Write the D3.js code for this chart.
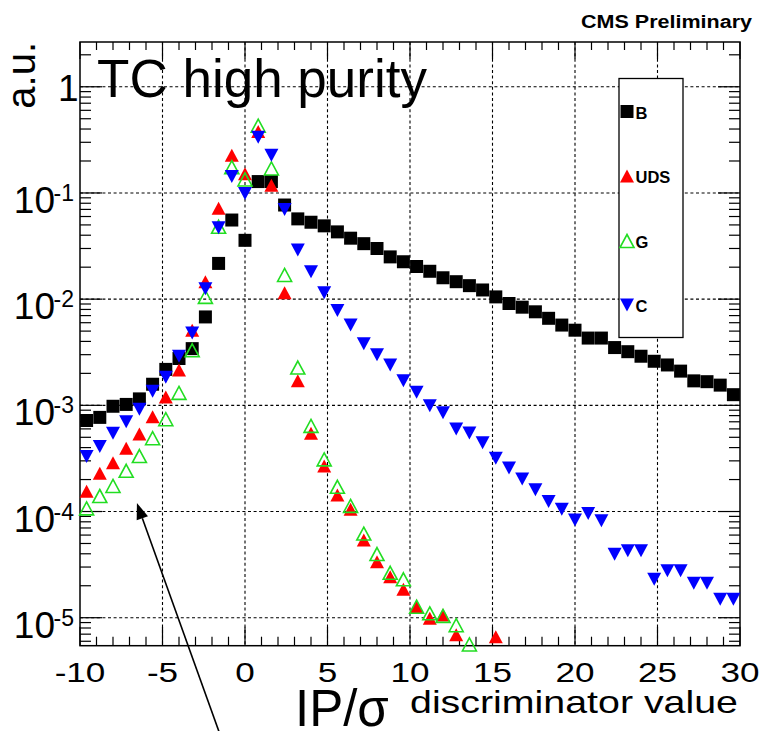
<!DOCTYPE html>
<html>
<head>
<meta charset="utf-8">
<script src="https://cdn.jsdelivr.net/npm/d3@7"></script>
<style>
  html, body { margin: 0; background: #fff; }
  svg { display: block; }
  text { font-family: "Liberation Sans", Arial, Helvetica, sans-serif; }
</style>
</head>
<body>
<svg id="chart" width="761" height="731"></svg>
<script>
// Histogram bin centres (50 bins of width 0.8 between -10 and 30)
const binCenters = [
  -9.6, -8.8, -8.0, -7.2, -6.4, -5.6, -4.8, -4.0, -3.2, -2.4,
  -1.6, -0.8, 0.0, 0.8, 1.6, 2.4, 3.2, 4.0, 4.8, 5.6,
  6.4, 7.2, 8.0, 8.8, 9.6, 10.4, 11.2, 12.0, 12.8, 13.6,
  14.4, 15.2, 16.0, 16.8, 17.6, 18.4, 19.2, 20.0, 20.8, 21.6,
  22.4, 23.2, 24.0, 24.8, 25.6, 26.4, 27.2, 28.0, 28.8, 29.6
];

// Normalised IP/sigma distributions per jet flavour (null = empty bin)
const valuesB = [
  7.2e-4, 7.7e-4, 9.8e-4, 1.02e-3, 1.15e-3, 1.58e-3, 2.18e-3, 2.76e-3, 3.42e-3, 6.8e-3,
  0.0217, 0.0556, 0.0358, 0.128, 0.128, 0.077, 0.057, 0.053, 0.049, 0.043,
  0.0375, 0.0333, 0.030, 0.025, 0.0225, 0.0203, 0.0183, 0.0159, 0.0146, 0.0134,
  0.0122, 0.0105, 0.0091, 0.0084, 0.0076, 0.0066, 0.0057, 0.0051, 0.0043, 0.0043,
  0.0035, 0.0032, 0.0029, 0.0026, 0.0024, 0.0021, 0.0017, 0.00167, 0.00155, 0.00126
];
const valuesUDS = [
  1.55e-4, 2.29e-4, 2.88e-4, 3.94e-4, 5.37e-4, 7.8e-4, 1.2e-3, 2.15e-3, 5.1e-3, 0.0146,
  0.0716, 0.227, 0.152, 0.38, 0.118, 0.0115, 0.0017, 5.45e-4, 2.68e-4, 1.43e-4,
  1.05e-4, 5.4e-5, 3.37e-5, 2.43e-5, 1.85e-5, 1.27e-5, 9.9e-6, 1.06e-5, 6.9e-6, null,
  null, 6.6e-6, null, null, null, null, null, null, null, null,
  null, null, null, null, null, null, null, null, null, null
];
const valuesG = [
  1.07e-4, 1.4e-4, 1.74e-4, 2.42e-4, 3.33e-4, 4.9e-4, 7.4e-4, 1.31e-3, 3.3e-3, 0.0105,
  0.048, 0.175, 0.134, 0.43, 0.17, 0.0169, 0.00227, 6.4e-4, 3.1e-4, 1.71e-4,
  1.13e-4, 6.2e-5, 3.98e-5, 2.65e-5, 2.3e-5, 1.27e-5, 1.1e-5, 1.04e-5, 8.5e-6, 5.6e-6,
  null, null, null, null, null, null, null, null, null, null,
  null, null, null, null, null, null, null, null, null, null
];
const valuesC = [
  3.3e-4, 4.1e-4, 5.45e-4, 7.0e-4, 9.2e-4, 1.36e-3, 1.84e-3, 2.9e-3, 4.8e-3, 0.0125,
  0.047, 0.143, 0.099, 0.335, 0.227, 0.070, 0.029, 0.0181, 0.0115, 0.0078,
  0.0057, 0.0038, 0.0030, 0.0024, 0.0017, 0.00133, 0.00099, 0.00085, 0.0006, 0.00055,
  4.45e-4, 3.18e-4, 2.57e-4, 2.02e-4, 1.6e-4, 1.24e-4, 1.05e-4, 8.3e-5, 9.6e-5, 8.2e-5,
  3.95e-5, 4.28e-5, 4.28e-5, 2.3e-5, 2.77e-5, 2.77e-5, 2.11e-5, 2.11e-5, 1.49e-5, 1.49e-5
];

const seriesNames = ["B", "UDS", "G", "C"];
const seriesColors = ["#000000", "#ff0000", "#22dd22", "#0000ff"];
const seriesShapes = ["square", "triUp", "triUpOpen", "triDown"];

const xTickValues = [-10, -5, 0, 5, 10, 15, 20, 25, 30];
const xTickLabels = ["-10", "-5", "0", "5", "10", "15", "20", "25", "30"];
const yTickExponents = [0, -1, -2, -3, -4, -5];

const titleText = "TC high purity";
const yTitle = "a.u.";
const xTitleMain = "IP/\u03c3";
const xTitleRest = "discriminator value";
const cornerText = "CMS Preliminary";

// ---------- layout ----------
const frame = { left: 80, right: 740, top: 42, bottom: 645.7 };
const svg = d3.select("#chart");

const x = d3.scaleLinear().domain([-10, 30]).range([frame.left, frame.right]);
const y = d3.scaleLog().domain([5.45e-6, 2.64]).range([frame.bottom, frame.top]);

// ---------- grid ----------
const grid = svg.append("g").attr("stroke", "#000").attr("stroke-width", 1.1)
  .attr("stroke-dasharray", "3,2.6");
grid.selectAll("line.gx").data(xTickValues.filter(v => v > -10 && v < 30)).join("line")
  .attr("x1", d => x(d)).attr("x2", d => x(d))
  .attr("y1", frame.top).attr("y2", frame.bottom);
grid.selectAll("line.gy").data(yTickExponents).join("line")
  .attr("x1", frame.left).attr("x2", frame.right)
  .attr("y1", d => y(Math.pow(10, d))).attr("y2", d => y(Math.pow(10, d)));

// ---------- ticks on all four sides ----------
const ticks = svg.append("g").attr("stroke", "#000").attr("stroke-width", 1.2);
const xMinor = d3.range(-10, 31, 1);
xMinor.forEach(v => {
  const major = v % 5 === 0;
  const len = major ? 19 : 9;
  ticks.append("line").attr("x1", x(v)).attr("x2", x(v))
    .attr("y1", frame.bottom).attr("y2", frame.bottom - len);
  ticks.append("line").attr("x1", x(v)).attr("x2", x(v))
    .attr("y1", frame.top).attr("y2", frame.top + (major ? 17 : 8));
});
const [yLo, yHi] = y.domain();
for (let e = -6; e <= 0; e++) {
  for (let k = 1; k <= 9; k++) {
    const v = k * Math.pow(10, e);
    if (v < yLo || v > yHi) continue;
    const len = k === 1 ? 22 : 11;
    ticks.append("line").attr("x1", frame.left).attr("x2", frame.left + len)
      .attr("y1", y(v)).attr("y2", y(v));
    ticks.append("line").attr("x1", frame.right).attr("x2", frame.right - len)
      .attr("y1", y(v)).attr("y2", y(v));
  }
}

// ---------- frame ----------
svg.append("rect").attr("x", frame.left).attr("y", frame.top)
  .attr("width", frame.right - frame.left).attr("height", frame.bottom - frame.top)
  .attr("fill", "none").attr("stroke", "#000").attr("stroke-width", 1.5);

// ---------- tick labels ----------
const xLab = svg.append("g");
xTickValues.forEach((v, i) => {
  xLab.append("text")
    .attr("transform", `translate(${x(v)},681.5) scale(1.3,1)`)
    .attr("text-anchor", "middle").attr("font-size", 27).attr("fill", "#000")
    .text(xTickLabels[i]);
});
const yLab = svg.append("g").attr("fill", "#000");
yTickExponents.forEach(e => {
  const ty = y(Math.pow(10, e));
  if (e === 0) {
    yLab.append("text").attr("x", 78.5).attr("y", ty + 14)
      .attr("text-anchor", "end").attr("font-size", 37).text("1");
  } else {
    yLab.append("text").attr("x", 55).attr("y", ty + 20)
      .attr("text-anchor", "end").attr("font-size", 37).text("10");
    yLab.append("text").attr("x", 53.5).attr("y", ty + 8)
      .attr("text-anchor", "start").attr("font-size", 23).text(String(e));
  }
});

// ---------- markers ----------
function markerPath(shape, s) {
  const w = s + 1, h = s;
  if (shape === "square") return `M${-s / 2},${-s / 2}h${s}v${s}h${-s}Z`;
  if (shape === "triDown") return `M0,${h / 2}L${w / 2},${-h / 2}L${-w / 2},${-h / 2}Z`;
  return `M0,${-h / 2}L${w / 2},${h / 2}L${-w / 2},${h / 2}Z`;
}
function styleMarker(sel, i) {
  if (seriesShapes[i] === "triUpOpen") {
    sel.attr("fill", "none").attr("stroke", seriesColors[i]).attr("stroke-width", 1.6);
  } else {
    sel.attr("fill", seriesColors[i]).attr("stroke", "none");
  }
}

const allSeries = [valuesB, valuesUDS, valuesG, valuesC];
allSeries.forEach((vals, i) => {
  const pts = binCenters.map((c, j) => ({ c, v: vals[j] })).filter(d => d.v != null);
  const g = svg.append("g").attr("class", "series-" + seriesNames[i]);
  g.selectAll("path").data(pts).join("path")
    .attr("transform", d => `translate(${x(d.c)},${y(d.v)})`)
    .attr("d", markerPath(seriesShapes[i], 13))
    .call(styleMarker, i);
});

// ---------- legend ----------
const legend = svg.append("g");
legend.append("rect").attr("x", 619).attr("y", 78.5).attr("width", 64).attr("height", 259)
  .attr("fill", "#fff").attr("stroke", "#000").attr("stroke-width", 1.3);
const legendY = [111.5, 176, 241, 305];
seriesNames.forEach((name, i) => {
  const m = legend.append("path")
    .attr("transform", `translate(627,${legendY[i]})`)
    .attr("d", markerPath(seriesShapes[i], 13));
  styleMarker(m, i);
  legend.append("text").attr("x", 635.5).attr("y", legendY[i] + 7)
    .attr("font-size", 16.5).attr("font-weight", "bold").attr("fill", "#000")
    .text(name);
});

// ---------- titles ----------
svg.append("text").attr("x", 97).attr("y", 97)
  .attr("font-size", 53).attr("fill", "#000")
  .attr("textLength", 330).attr("lengthAdjust", "spacingAndGlyphs")
  .text(titleText);
svg.append("text").attr("transform", "translate(35,42) rotate(-90)")
  .attr("text-anchor", "end").attr("font-size", 40).attr("fill", "#000")
  .text(yTitle);
svg.append("text").attr("x", 581).attr("y", 28.3)
  .attr("font-size", 18).attr("font-weight", "bold").attr("fill", "#000")
  .attr("textLength", 171).attr("lengthAdjust", "spacingAndGlyphs")
  .text(cornerText);
svg.append("text").attr("x", 295).attr("y", 726)
  .attr("font-size", 51).attr("fill", "#000")
  .text(xTitleMain);
svg.append("text").attr("x", 410).attr("y", 713)
  .attr("font-size", 32).attr("fill", "#000")
  .attr("textLength", 328).attr("lengthAdjust", "spacingAndGlyphs")
  .text(xTitleRest);

// ---------- annotation arrow towards the light-flavour tails ----------
const tip = [x(-6.55), y(1.2e-4)];
const tail = [222, 740];
const dx = tip[0] - tail[0], dy = tip[1] - tail[1];
const L = Math.hypot(dx, dy), ux = dx / L, uy = dy / L;
const headLen = 16, headHalf = 6;
const base = [tip[0] - ux * headLen, tip[1] - uy * headLen];
svg.append("line").attr("x1", tail[0]).attr("y1", tail[1])
  .attr("x2", base[0]).attr("y2", base[1])
  .attr("stroke", "#000").attr("stroke-width", 1.6);
svg.append("path")
  .attr("d", `M${tip[0]},${tip[1]}L${base[0] - uy * headHalf},${base[1] + ux * headHalf}L${base[0] + uy * headHalf},${base[1] - ux * headHalf}Z`)
  .attr("fill", "#000");
</script>
</body>
</html>
